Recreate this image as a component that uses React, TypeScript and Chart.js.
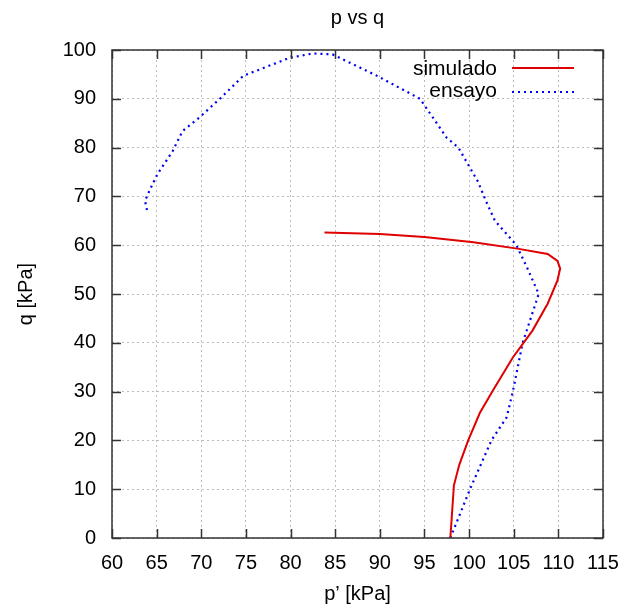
import React, { useEffect, useRef } from "react";
import { Chart, registerables } from "chart.js";

Chart.register(...registerables);

const simP = [83.8, 90.0, 95.0, 100.5, 105.4, 108.8, 109.9, 110.2, 109.9, 108.8, 107.1, 104.9, 102.6, 101.2, 99.9, 98.9, 98.3, 97.9];
const simQ = [62.6, 62.3, 61.7, 60.6, 59.3, 58.2, 56.8, 55.2, 52.8, 48.0, 42.5, 37.0, 30.0, 25.6, 20.0, 15.0, 10.8, 0.0];

const ensP = [97.9, 100.1, 102.5, 104.2, 104.9, 106.0, 107.8, 106.6, 105.3, 102.9, 101.9, 101.0, 98.8, 97.5, 94.5, 89.7, 84.7, 82.5, 79.9, 74.7, 72.2, 69.8, 67.9, 66.8, 65.1, 64.2, 63.7, 64.0];
const ensQ = [0.0, 10.0, 20.0, 24.7, 30.0, 40.0, 50.0, 55.0, 60.0, 65.0, 69.0, 73.0, 80.0, 82.0, 90.0, 94.7, 99.1, 99.3, 98.4, 94.7, 90.2, 86.2, 83.4, 79.3, 74.6, 71.2, 69.1, 66.5];

const seriesNames = ["simulado", "ensayo"];
const titleText = "p vs q";
const xTitle = "p\u2019 [kPa]";
const yTitle = "q [kPa]";

const FONT = "'Liberation Sans', Arial, sans-serif";
const RED = "#e00000";
const BLUE = "#0000ee";

const framePlugin = {
  id: "gnuFrame",
  afterDraw(chart: any) {
    const { ctx, chartArea: a, scales } = chart;
    ctx.save();
    ctx.strokeStyle = "#333";
    ctx.lineWidth = 1.5;
    ctx.strokeRect(a.left, a.top, a.right - a.left, a.bottom - a.top);
    const tl = 9;
    ctx.beginPath();
    scales.x.ticks.forEach((t: any) => {
      const x = Math.round(scales.x.getPixelForValue(t.value)) + 0.5;
      ctx.moveTo(x, a.bottom);
      ctx.lineTo(x, a.bottom - tl);
      ctx.moveTo(x, a.top);
      ctx.lineTo(x, a.top + tl);
    });
    scales.y.ticks.forEach((t: any) => {
      const y = Math.round(scales.y.getPixelForValue(t.value)) + 0.5;
      ctx.moveTo(a.left, y);
      ctx.lineTo(a.left + tl, y);
      ctx.moveTo(a.right, y);
      ctx.lineTo(a.right - tl, y);
    });
    ctx.stroke();
    ctx.fillStyle = "#000";
    ctx.font = `20px ${FONT}`;
    ctx.textAlign = "center";
    ctx.textBaseline = "alphabetic";
    ctx.fillText(titleText, (a.left + a.right) / 2, 24);
    ctx.textBaseline = "middle";
    ctx.fillText(xTitle, (a.left + a.right) / 2, 594);
    ctx.save();
    ctx.translate(26, (a.top + a.bottom) / 2);
    ctx.rotate(-Math.PI / 2);
    ctx.fillText(yTitle, 0, 0);
    ctx.restore();
    ctx.textAlign = "right";
    ctx.textBaseline = "alphabetic";
    ctx.font = `21px ${FONT}`;
    const rows = [
      { name: seriesNames[0], color: RED, dash: [] as number[], base: 75, ly: 68 },
      { name: seriesNames[1], color: BLUE, dash: [2, 4], base: 97, ly: 92 },
    ];
    rows.forEach((r) => {
      ctx.fillStyle = "#000";
      ctx.fillText(r.name, 497, r.base);
      ctx.beginPath();
      ctx.strokeStyle = r.color;
      ctx.lineWidth = 2;
      ctx.setLineDash(r.dash);
      ctx.moveTo(512, r.ly);
      ctx.lineTo(574, r.ly);
      ctx.stroke();
      ctx.setLineDash([]);
    });
    ctx.restore();
  },
};

export default function App() {
  const ref = useRef<HTMLCanvasElement>(null);
  useEffect(() => {
    const simData = simP.map((p, i) => ({ x: p, y: simQ[i] }));
    const ensData = ensP.map((p, i) => ({ x: p, y: ensQ[i] }));
    const chart = new Chart(ref.current as HTMLCanvasElement, {
      type: "scatter",
      data: {
        datasets: [
          {
            label: seriesNames[0],
            data: simData,
            showLine: true,
            borderColor: RED,
            borderWidth: 2,
            pointRadius: 0,
            tension: 0,
          },
          {
            label: seriesNames[1],
            data: ensData,
            showLine: true,
            borderColor: BLUE,
            borderWidth: 2.2,
            borderDash: [2, 4],
            pointRadius: 0,
            tension: 0,
          },
        ],
      },
      options: {
        animation: false,
        responsive: true,
        maintainAspectRatio: false,
        layout: { padding: { left: 0, right: 21, top: 50, bottom: 0 } },
        plugins: { legend: { display: false }, title: { display: false }, tooltip: { enabled: false } },
        scales: {
          x: {
            type: "linear",
            min: 60,
            max: 115,
            afterFit: (s: any) => { s.height = 72; s.paddingRight = 0; s.paddingLeft = 0; },
            ticks: { stepSize: 5, padding: 13, autoSkip: false, maxRotation: 0, color: "#000", font: { family: FONT, size: 20 } },
            grid: { color: "#bbb", drawTicks: false } as any,
            border: { display: false, dash: [2, 3] } as any,
          },
          y: {
            type: "linear",
            min: 0,
            max: 100,
            afterFit: (s: any) => { s.width = 112; s.paddingTop = 0; s.paddingBottom = 0; },
            ticks: { stepSize: 10, padding: 16, color: "#000", font: { family: FONT, size: 20 } },
            grid: { color: "#bbb", drawTicks: false } as any,
            border: { display: false, dash: [2, 3] } as any,
          },
        },
      },
      plugins: [framePlugin],
    });
    return () => chart.destroy();
  }, []);
  return (
    <div style={{ position: "absolute", left: 0, top: 0, width: 624, height: 610 }}>
      <canvas ref={ref} />
    </div>
  );
}
